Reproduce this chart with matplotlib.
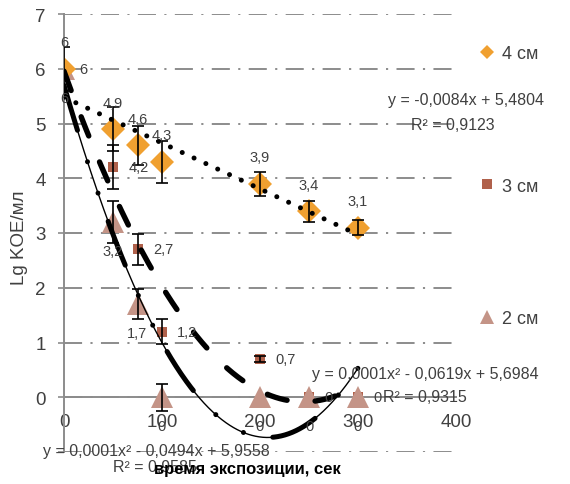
import matplotlib
matplotlib.use('Agg')
import matplotlib.pyplot as plt
import numpy as np
from matplotlib.lines import Line2D

plt.rcParams['font.family'] = ['Liberation Sans', 'DejaVu Sans']

# exposure time, sec
x_sec = [0, 50, 75, 100, 200, 250, 300]
# Lg KOE/ml for each distance
y_4cm = [6, 4.9, 4.6, 4.3, 3.9, 3.4, 3.1]
y_3cm = [6, 4.2, 2.7, 1.2, 0.7, 0, 0]
y_2cm = [6, 3.2, 1.7, 0, 0, 0, 0]
err_4cm = [0.4, 0.4, 0.35, 0.38, 0.22, 0.19, 0.13]
err_3cm = [0, 0.4, 0.28, 0.23, 0.05, 0, 0]
err_2cm = [0, 0.38, 0.27, 0.25, 0, 0, 0]
names = ['4 см', '3 см', '2 см']
eq_4cm = ['y = -0,0084x + 5,4804', 'R² = 0,9123']
eq_3cm = ['y = 0,0001x² - 0,0494x + 5,9558', 'R² = 0,9585']
eq_2cm = ['y = 0,0001x² - 0,0619x + 5,6984', 'R² = 0,9315']
x_ticks = [0, 100, 200, 300, 400]
y_ticks = [-1, 0, 1, 2, 3, 4, 5, 6, 7]

c4 = '#F0A030'
c3 = '#B0614B'
c2 = '#C49487'
grey = '#8C8C8C'
txt = '#404040'

W, H = 570, 485
fig = plt.figure(figsize=(W / 100, H / 100), dpi=100)
ax = fig.add_axes([64 / W, 32 / H, 392 / W, 438 / H])
ax.set_xlim(0, 400)
ax.set_ylim(-1, 7)

def fmt(v):
    return ('%g' % v).replace('.', ',')

def errs(x, y, e):
    xx = [a for a, b in zip(x, e) if b > 0]
    yy = [a for a, b in zip(y, e) if b > 0]
    ee = [b for b in e if b > 0]
    ax.errorbar(xx, yy, yerr=ee, fmt='none', ecolor='black', elinewidth=1.2,
                capsize=4.5, capthick=1.2, zorder=6)

# markers
ax.plot(x_sec, y_3cm, 's', color=c3, ms=7.5, mew=0, zorder=3)
ax.plot(x_sec, y_2cm, '^', color=c2, ms=16, mew=0, zorder=3.1)
ax.plot(x_sec, y_4cm, 'D', color=c4, ms=12.5, mew=0, zorder=3.2)

# trendlines (fitted like Excel)
xs = np.linspace(0, 300, 400)
p4 = np.polyfit(x_sec, y_4cm, 1)
p3 = np.polyfit(x_sec, y_3cm, 2)
p2 = np.polyfit(x_sec, y_2cm, 2)
ax.plot(xs, np.polyval(p4, xs), color='black', lw=3.6, ls=(0, (0.01, 2.6)),
        dash_capstyle='round', zorder=4)
ax.plot(xs, np.polyval(p3, xs), color='black', lw=3.9, ls=(0, (3.8, 5.2)),
        dash_capstyle='round', zorder=4)
ax.plot(xs, np.polyval(p2, xs), color='black', lw=1.0, zorder=4)
ax.plot(xs, np.polyval(p2, xs), color='black', lw=3.6,
        ls=(0, (9.4, 6.6, 0.01, 6.6, 0.01, 6.0)), dash_capstyle='round', zorder=4)

errs(x_sec, y_4cm, err_4cm)
errs(x_sec, y_3cm, err_3cm)
errs(x_sec, y_2cm, err_2cm)

# data labels
for x, y in zip(x_sec, y_4cm):
    ax.annotate(fmt(y), (x, y), xytext=(0, 19), textcoords='offset points',
                ha='center', va='center', fontsize=10.5, color=txt, zorder=7)
for x, y in zip(x_sec, y_3cm):
    ax.annotate(fmt(y), (x, y), xytext=(11, 0), textcoords='offset points',
                ha='left', va='center', fontsize=10.5, color=txt, zorder=7)
for x, y in zip(x_sec, y_2cm):
    ax.annotate(fmt(y), (x, y), xytext=(0, -21), textcoords='offset points',
                ha='center', va='center', fontsize=10.5, color=txt, zorder=7)

# axes styling
ax.set_xticks(x_ticks)
ax.set_xticklabels([str(t) for t in x_ticks])
ax.set_yticks(y_ticks)
ax.set_yticklabels([''] + [str(t) for t in y_ticks[1:]])
ax.yaxis.grid(True, color=grey, lw=1.4, ls=(0, (9.3, 4.3, 1.1, 4.3)))
ax.tick_params(axis='x', length=0, pad=11, labelsize=13.5, labelcolor=txt)
ax.tick_params(axis='y', length=4, width=1.2, color=grey, pad=9,
               labelsize=13.5, labelcolor=txt)
for s in ['top', 'right']:
    ax.spines[s].set_visible(False)
ax.spines['bottom'].set_position(('data', 0))
for s in ['bottom', 'left']:
    ax.spines[s].set_color(grey)
    ax.spines[s].set_linewidth(1.4)
ax.set_axisbelow(True)

# trendline equations
def ftext(px, py, s):
    fig.text(px / W, 1 - py / H, s, ha='center', va='center', color=txt,
             fontsize=11.5)

ftext(466, 101, eq_4cm[0])
ftext(453, 126, eq_4cm[1])
ftext(425, 375, eq_2cm[0])
ftext(425, 398, eq_2cm[1])
ftext(156, 452, eq_3cm[0])
ftext(155, 468, eq_3cm[1])

# axis titles
fig.text(247 / W, 1 - 470 / H, 'время экспозиции, сек', ha='center', va='center',
         fontsize=12, fontweight='bold', color='black')
fig.text(20 / W, 1 - 238 / H, 'Lg KOE/мл', ha='center', va='center',
         rotation=90, fontsize=13.5, color=txt)

# legend
handles = [Line2D([], [], marker='D', color=c4, ls='none', ms=7, mew=0),
           Line2D([], [], marker='s', color=c3, ls='none', ms=7, mew=0),
           Line2D([], [], marker='^', color=c2, ls='none', ms=10, mew=0)]
ax.legend(handles, names, loc='upper left', bbox_to_anchor=(480 / W, 1 - 46 / H),
          bbox_transform=fig.transFigure, frameon=False, fontsize=13,
          labelspacing=6.4, handlelength=0.8, handletextpad=0.4,
          borderaxespad=0, borderpad=0, labelcolor=txt)

fig.savefig('out.png', dpi=100)
